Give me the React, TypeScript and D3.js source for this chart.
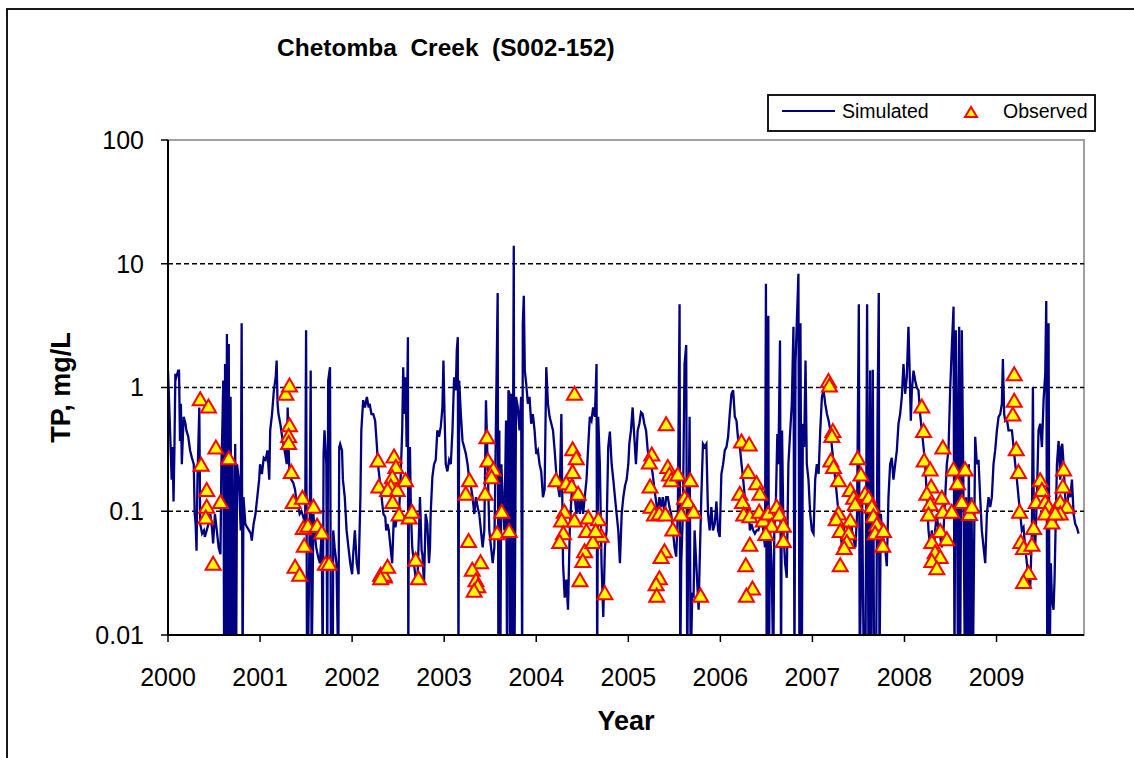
import * as d3 from "d3";

// Simulated daily TP, [years since 1 Jan 2000, mg/L]
const simA: [number, number][] = [
  [0.00,1.37],[0.02,0.51],[0.04,0.18],[0.05,0.33],[0.06,0.12],[0.07,0.33],[0.08,1.29],[0.09,1.21],[0.11,1.37],[0.12,1.37],
  [0.13,0.37],[0.14,0.74],[0.15,0.24],[0.17,0.58],[0.19,0.51],[0.20,0.45],[0.22,0.40],[0.24,0.31],[0.26,0.27],[0.28,0.24],
  [0.29,0.095],[0.30,0.079],[0.31,0.048],[0.32,0.18],[0.34,0.69],[0.35,0.079],[0.37,0.066],[0.39,0.07],[0.40,0.062],[0.42,0.07],
  [0.44,0.079],[0.46,0.095],[0.48,0.07],[0.49,0.055],[0.51,0.095],[0.53,0.07],[0.55,0.051],[0.57,0.045],[0.58,0.24],[0.59,0.45],
  [0.60,1.14],[0.61,0.005],[0.62,1.55],[0.63,0.005],[0.64,2.7],[0.65,0.005],[0.66,2.25],[0.67,0.005],[0.68,0.84],[0.69,0.005],
  [0.70,0.24],[0.71,0.005],[0.73,0.35],[0.74,0.005],[0.75,0.24],[0.77,0.18],[0.79,0.07],[0.80,3.3],[0.81,0.005],[0.82,0.13],
  [0.84,0.079],[0.86,0.074],[0.88,0.07],[0.90,0.066],[0.91,0.058],[0.93,0.079],[0.95,0.095],[0.97,0.13],[0.99,0.18],[1.00,0.24],
  [1.02,0.2],[1.04,0.27],[1.06,0.26],[1.08,0.31],[1.10,0.18],[1.11,0.45],[1.13,0.61],[1.15,0.95],[1.17,1.21],[1.18,1.65],
  [1.19,0.74],[1.20,0.61],[1.22,0.51],[1.24,0.4],[1.26,0.33],[1.28,0.27],[1.29,0.24],[1.30,0.69],[1.31,0.33],[1.32,0.2],
  [1.34,0.18],[1.36,0.17],[1.38,0.15],[1.39,0.13],[1.41,0.115],[1.43,0.095],[1.45,0.1],[1.47,0.09],[1.49,0.079],[1.50,2.9],
  [1.51,0.005],[1.52,0.005],[1.54,0.095],[1.55,1.37],[1.56,0.005],[1.58,0.095],[1.59,0.07],[1.61,0.051],[1.63,0.043],[1.65,0.038],
  [1.67,0.07],[1.68,0.005],[1.69,0.29],[1.70,0.45],[1.72,0.24],[1.73,0.005],[1.74,1.14],[1.76,1.46],[1.77,0.005],[1.79,0.005],
  [1.795,0.07],[1.81,0.051],[1.83,0.038],[1.85,0.005],[1.86,0.33],[1.87,0.35],[1.89,0.31],[1.90,0.18],[1.92,0.13],[1.94,0.07],
  [1.96,0.051],[1.98,0.038],[2.00,0.031],[2.01,0.043],[2.03,0.07],[2.05,0.038],[2.07,0.031],[2.09,0.13],[2.10,0.45],[2.12,0.79],
  [2.14,0.69],[2.16,0.84],[2.18,0.69],[2.19,0.74],[2.21,0.61],[2.23,0.61],[2.25,0.54],[2.27,0.33],[2.28,0.24],[2.30,0.18],
  [2.32,0.13],[2.34,0.095],[2.36,0.09],[2.37,0.07],
];

const simB: [number, number][] = [
  [2.384,0.079],[2.399,0.07],[2.417,0.051],[2.435,0.038],[2.453,0.09],[2.471,0.074],[2.490,0.095],[2.508,0.09],[2.526,0.18],[2.544,0.45],
  [2.555,1.46],[2.566,0.61],[2.581,1.21],[2.592,0.33],[2.606,2.55],[2.610,0.005],[2.617,0.18],[2.628,0.33],[2.639,0.095],[2.653,0.051],
  [2.671,0.038],[2.690,0.029],[2.708,0.026],[2.726,0.066],[2.737,0.13],[2.744,0.09],[2.755,0.048],[2.763,0.045],[2.781,0.026],[2.799,0.095],
  [2.817,0.079],[2.835,0.038],[2.846,0.051],[2.853,0.095],[2.872,0.19],[2.890,0.24],[2.908,0.26],[2.926,0.45],[2.944,0.40],[2.963,0.48],
  [2.981,0.69],[2.992,1.65],[3.003,0.65],[3.017,0.24],[3.035,0.21],[3.054,0.26],[3.072,0.24],[3.090,0.45],[3.108,1.21],[3.126,0.95],
  [3.137,2.0],[3.148,2.55],[3.155,0.005],[3.163,1.14],[3.181,0.61],[3.199,0.37],[3.217,0.33],[3.236,0.29],[3.254,0.24],[3.272,0.18],
  [3.290,0.16],[3.308,0.13],[3.327,0.095],[3.345,0.13],[3.363,0.108],[3.381,0.095],[3.399,0.07],[3.418,0.051],[3.436,0.07],[3.454,0.79],
  [3.472,0.24],[3.490,0.07],[3.509,0.051],[3.527,0.038],[3.545,0.051],[3.563,0.58],[3.581,5.8],[3.589,0.005],[3.599,0.45],[3.610,0.005],
  [3.621,0.24],[3.636,0.13],[3.654,0.07],[3.672,0.54],[3.683,0.005],[3.698,0.95],[3.709,0.89],[3.716,0.005],[3.727,0.89],[3.738,0.005],
  [3.756,14],[3.763,0.005],[3.781,0.84],[3.800,0.69],[3.818,0.45],[3.836,0.84],[3.847,0.005],[3.854,3.3],[3.865,5.5],[3.876,1.37],
  [3.891,1.07],[3.909,0.74],[3.927,0.84],[3.945,0.51],[3.963,0.61],[3.982,0.45],[4.000,0.29],[4.018,0.31],[4.036,0.24],[4.054,0.21],
  [4.073,0.13],[4.091,0.15],[4.109,1.46],[4.127,0.74],[4.145,0.58],[4.164,0.51],[4.182,0.45],[4.200,0.31],[4.218,0.20],[4.236,0.16],
  [4.254,0.13],[4.273,0.61],[4.291,0.038],[4.309,0.02],[4.327,0.028],[4.345,0.016],[4.364,0.07],[4.382,0.13],[4.400,0.18],[4.418,0.13],
  [4.436,0.095],[4.455,0.13],[4.473,0.095],[4.491,0.13],[4.509,0.095],[4.527,0.13],[4.546,0.18],[4.564,0.33],[4.582,0.58],[4.600,0.54],
  [4.618,0.69],[4.637,0.58],[4.655,1.55],[4.662,0.005],[4.673,0.58],[4.691,0.24],[4.709,0.038],[4.728,0.014],[4.746,0.051],[4.764,0.07],
  [4.782,0.33],[4.800,0.44],[4.819,0.24],[4.837,0.18],[4.855,0.13],[4.873,0.095],[4.891,0.07],[4.909,0.038],[4.928,0.095],[4.946,0.13],
  [4.964,0.16],[4.982,0.18],[5.000,0.24],
];

const simC: [number, number][] = [
  [5.011,0.35],[5.029,0.45],[5.047,0.69],[5.065,0.40],[5.083,0.24],[5.102,0.45],[5.120,0.51],[5.138,0.63],[5.156,0.61],[5.174,0.51],
  [5.193,0.45],[5.211,0.31],[5.229,0.27],[5.247,0.24],[5.265,0.20],[5.284,0.15],[5.302,0.12],[5.320,0.095],[5.338,0.13],[5.356,0.108],
  [5.375,0.13],[5.393,0.095],[5.411,0.13],[5.429,0.13],[5.447,0.108],[5.466,0.095],[5.484,0.07],[5.502,0.051],[5.520,0.043],[5.538,0.095],
  [5.557,4.7],[5.564,0.005],[5.575,0.038],[5.593,0.095],[5.611,1.55],[5.629,2.2],[5.640,0.005],[5.648,0.028],[5.666,0.58],[5.677,0.005],
  [5.695,0.022],[5.709,0.02],[5.720,0.07],[5.738,0.038],[5.757,0.02],[5.764,0.016],[5.775,0.038],[5.793,0.13],[5.811,0.35],[5.829,0.33],
  [5.848,0.35],[5.866,0.095],[5.884,0.07],[5.902,0.108],[5.920,0.07],[5.939,0.079],[5.957,0.12],[5.975,0.07],[5.993,0.062],[6.011,0.2],
  [6.030,0.24],[6.048,0.31],[6.066,0.33],[6.084,0.40],[6.102,0.61],[6.121,0.89],[6.139,0.95],[6.157,0.58],[6.175,0.54],[6.193,0.38],
  [6.212,0.33],[6.230,0.24],[6.248,0.18],[6.266,0.13],[6.284,0.095],[6.303,0.115],[6.321,0.07],[6.339,0.079],[6.357,0.07],[6.375,0.066],
  [6.394,0.07],[6.412,0.07],[6.430,0.079],[6.448,0.095],[6.466,0.07],[6.485,0.051],[6.495,6.9],[6.503,0.005],[6.521,3.8],[6.528,0.005],
  [6.539,0.07],[6.557,0.038],[6.575,0.005],[6.586,0.07],[6.604,0.13],[6.619,0.42],[6.630,0.24],[6.648,2.4],[6.659,0.005],[6.670,0.45],
  [6.685,0.07],[6.703,0.038],[6.721,0.029],[6.739,0.24],[6.757,0.42],[6.776,0.74],[6.794,3.1],[6.805,0.005],[6.816,1.55],[6.830,3.3],
  [6.848,8.3],[6.859,0.005],[6.870,3.3],[6.885,0.005],[6.896,0.51],[6.910,0.33],[6.925,1.65],[6.939,0.24],[6.957,0.18],[6.976,0.095],
  [6.994,0.07],[7.012,0.066],[7.030,0.18],[7.048,0.24],[7.067,0.20],[7.085,0.45],[7.103,0.84],[7.121,0.95],[7.139,0.74],[7.158,0.61],
  [7.176,0.54],[7.194,0.45],[7.212,0.33],[7.230,0.24],[7.249,0.18],[7.267,0.13],[7.285,0.095],[7.303,0.07],[7.321,0.051],[7.340,0.07],
  [7.358,0.079],[7.376,0.079],[7.394,0.062],[7.412,0.095],[7.431,0.07],[7.449,0.058],[7.467,0.051],[7.485,0.095],[7.504,4.7],[7.514,0.005],
  [7.540,0.13],[7.558,0.005],[7.576,0.005],[7.594,4.7],
];

const simD: [number, number][] = [
  [7.609,0.005],[7.627,1.37],[7.638,0.005],[7.656,1.39],[7.670,0.005],[7.692,0.005],[7.707,0.58],[7.721,5.8],[7.728,0.005],[7.743,0.095],
  [7.757,0.07],[7.772,0.06],[7.790,0.051],[7.808,0.036],[7.826,0.13],[7.844,0.24],[7.862,0.27],[7.880,0.18],[7.899,0.24],[7.917,0.31],
  [7.935,0.51],[7.953,0.61],[7.971,0.84],[7.989,1.55],[8.007,0.89],[8.025,1.21],[8.043,3.1],[8.054,1.55],[8.069,0.54],[8.080,0.95],
  [8.098,1.37],[8.116,1.14],[8.134,1.0],[8.152,0.95],[8.170,0.61],[8.188,0.45],[8.207,0.33],[8.225,0.24],[8.243,0.13],[8.261,0.07],
  [8.279,0.051],[8.297,0.07],[8.315,0.043],[8.333,0.07],[8.351,0.095],[8.370,0.07],[8.388,0.062],[8.406,0.051],[8.424,0.07],[8.442,0.13],
  [8.460,0.24],[8.478,0.31],[8.496,0.95],[8.514,2.1],[8.533,4.5],[8.543,0.005],[8.558,2.9],[8.569,0.58],[8.580,0.005],[8.594,3.1],
  [8.605,0.005],[8.623,2.9],[8.641,0.13],[8.656,0.005],[8.670,0.13],[8.685,0.005],[8.699,0.24],[8.714,0.005],[8.728,0.13],[8.743,0.005],
  [8.768,0.40],[8.786,0.24],[8.804,0.26],[8.822,0.13],[8.840,0.07],[8.859,0.051],[8.877,0.038],[8.895,0.095],[8.913,0.13],[8.931,0.108],
  [8.949,0.13],[8.967,0.24],[8.985,0.31],[9.004,0.45],[9.022,0.58],[9.040,0.61],[9.058,0.74],[9.069,1.7],[9.083,0.61],[9.094,0.54],
  [9.112,0.56],[9.130,0.45],[9.148,0.45],[9.167,0.45],[9.185,0.33],[9.203,0.24],[9.221,0.18],[9.239,0.13],[9.257,0.095],[9.275,0.07],
  [9.293,0.074],[9.311,0.051],[9.330,0.038],[9.348,0.028],[9.366,0.024],[9.384,0.07],[9.395,1.0],[9.406,0.07],[9.420,0.051],[9.438,0.13],
  [9.456,0.45],[9.474,0.51],[9.493,0.33],[9.511,0.79],[9.529,1.29],[9.540,5.0],[9.551,0.005],[9.565,3.3],[9.576,0.005],[9.590,0.038],
  [9.601,0.02],[9.619,0.016],[9.630,0.028],[9.641,0.07],[9.656,0.24],[9.674,0.37],[9.692,0.18],[9.703,0.33],[9.714,0.35],[9.728,0.24],
  [9.746,0.13],[9.764,0.095],[9.782,0.15],[9.801,0.13],[9.819,0.18],[9.837,0.095],[9.855,0.079],[9.873,0.074],[9.891,0.066],
];

// Observed grab samples, [years since 1 Jan 2000, mg/L]
const obs2000: [number, number][] = [[0.35,0.81],[0.44,0.71],[0.52,0.33],[0.36,0.24],[0.66,0.27],[0.42,0.15],[0.42,0.11],[0.41,0.09],[0.57,0.12],[0.49,0.038]];
const obs2001: [number, number][] = [[1.28,0.90],[1.32,1.05],[1.32,0.50],[1.31,0.41],[1.31,0.36],[1.34,0.21],[1.36,0.12],[1.46,0.13],[1.58,0.11],[1.47,0.074],[1.52,0.077],[1.62,0.077],[1.67,0.068],[1.48,0.053],[1.38,0.036],[1.43,0.031],[1.71,0.038],[1.75,0.038]];
const obs2002: [number, number][] = [[2.28,0.26],[2.29,0.16],[2.31,0.031],[2.35,0.03],[2.455,0.28],[2.475,0.23],[2.437,0.19],[2.42,0.16],[2.385,0.15],[2.49,0.15],[2.44,0.12],[2.58,0.18],[2.51,0.095],[2.62,0.09],[2.65,0.10],[2.69,0.041],[2.72,0.029],[2.345,0.031],[2.385,0.036],[2.31,0.029]];
const obs2003: [number, number][] = [[3.465,0.40],[3.275,0.18],[3.235,0.14],[3.475,0.26],[3.535,0.22],[3.515,0.19],[3.445,0.14],[3.625,0.10],[3.575,0.067],[3.705,0.07],[3.265,0.058],[3.395,0.039],[3.305,0.034],[3.345,0.028],[3.365,0.025],[3.325,0.023]];
const obs2004: [number, number][] = [[4.415,0.90],[4.395,0.32],[4.435,0.27],[4.215,0.18],[4.395,0.21],[4.325,0.17],[4.385,0.16],[4.455,0.14],[4.305,0.10],[4.275,0.085],[4.415,0.085],[4.565,0.09],[4.675,0.087],[4.295,0.067],[4.255,0.057],[4.545,0.07],[4.705,0.064],[4.525,0.048],[4.505,0.04],[4.615,0.057],[4.475,0.028],[4.745,0.022],[4.645,0.07]];
const obs2005: [number, number][] = [[5.411,0.51],[5.255,0.29],[5.229,0.25],[5.236,0.16],[5.247,0.11],[5.284,0.095],[5.338,0.097],[5.404,0.095],[5.429,0.23],[5.447,0.20],[5.466,0.18],[5.538,0.20],[5.673,0.18],[5.611,0.13],[5.647,0.12],[5.709,0.10],[5.575,0.095],[5.484,0.072],[5.393,0.048],[5.356,0.043],[5.338,0.029],[5.302,0.026],[5.309,0.021],[5.785,0.021]];
const obs2006: [number, number][] = [[6.229,0.37],[6.313,0.35],[6.302,0.21],[6.393,0.17],[6.429,0.14],[6.211,0.14],[6.240,0.12],[6.254,0.095],[6.320,0.092],[6.422,0.10],[6.465,0.085],[6.520,0.097],[6.611,0.11],[6.640,0.095],[6.556,0.077],[6.684,0.077],[6.494,0.066],[6.684,0.058],[6.320,0.054],[6.276,0.037],[6.349,0.024],[6.283,0.021]];
const obs2007: [number, number][] = [[7.174,1.14],[7.185,1.05],[7.222,0.45],[7.211,0.41],[7.200,0.26],[7.229,0.23],[7.283,0.18],[7.491,0.27],[7.527,0.20],[7.411,0.15],[7.447,0.13],[7.465,0.115],[7.283,0.097],[7.411,0.085],[7.258,0.087],[7.302,0.07],[7.393,0.067],[7.374,0.057],[7.345,0.051],[7.302,0.037],[7.572,0.14],[7.609,0.13],[7.645,0.11],[7.663,0.092],[7.699,0.079],[7.681,0.067],[7.772,0.07],[7.764,0.053]];
const obs2008: [number, number][] = [[8.188,0.71],[8.207,0.45],[8.214,0.26],[8.279,0.22],[8.417,0.33],[8.290,0.16],[8.243,0.14],[8.279,0.115],[8.261,0.095],[8.406,0.13],[8.417,0.10],[8.514,0.10],[8.533,0.22],[8.659,0.22],[8.576,0.17],[8.623,0.12],[8.706,0.096],[8.732,0.11],[8.297,0.057],[8.388,0.07],[8.460,0.06],[8.333,0.047],[8.388,0.043],[8.297,0.040],[8.351,0.035]];
const obs2009: [number, number][] = [[9.192,1.29],[9.192,0.79],[9.177,0.61],[9.214,0.32],[9.239,0.21],[9.250,0.10],[9.264,0.057],[9.293,0.051],[9.348,0.032],[9.293,0.027],[9.384,0.054],[9.402,0.074],[9.474,0.18],[9.493,0.15],[9.431,0.12],[9.529,0.12],[9.565,0.11],[9.529,0.097],[9.601,0.082],[9.656,0.11],[9.692,0.12],[9.721,0.16],[9.728,0.22],[9.764,0.11],[9.692,0.097],[9.638,0.097]];

const yearLabels = ["2000", "2001", "2002", "2003", "2004", "2005", "2006", "2007", "2008", "2009"];
const yTicks = [0.01, 0.1, 1, 10, 100];
const yTickLabels = ["0.01", "0.1", "1", "10", "100"];
const gridValues = [0.1, 1, 10];

const FONT = "'Liberation Sans', Arial, Helvetica, sans-serif";

export default function App() {
  const W = 1134, H = 758;
  const left = 168, right = 1084, top = 140, bottom = 635;

  const x = d3.scaleLinear().domain([0, 9.95]).range([left, right]);
  const y = d3.scaleLog().domain([0.01, 100]).range([bottom, top]);

  const sim = [...simA, ...simB, ...simC, ...simD];
  const obs = [...obs2000, ...obs2001, ...obs2002, ...obs2003, ...obs2004, ...obs2005, ...obs2006, ...obs2007, ...obs2008, ...obs2009];

  const line = d3.line<[number, number]>()
    .x(d => x(d[0]))
    .y(d => y(d[1]));

  const tri = (cx: number, cy: number, w: number, h: number) =>
    `M${cx},${cy - h / 2}L${cx + w / 2},${cy + h / 2}L${cx - w / 2},${cy + h / 2}Z`;

  return (
    <svg width={W} height={H} style={{ position: "absolute", left: 0, top: 0, background: "#fff" }} fontFamily={FONT}>
      <defs>
        <clipPath id="plotclip">
          <rect x={left} y={top} width={right - left} height={bottom - top} />
        </clipPath>
      </defs>
      <rect x={0} y={0} width={W} height={H} fill="#fff" />
      {/* outer chart frame */}
      <rect x={7} y={9} width={1300} height={900} fill="none" stroke="#000" strokeWidth={1.8} />

      <text x={277} y={56} fontSize={24.5} fontWeight="bold" style={{ whiteSpace: "pre" }} xmlSpace="preserve">
        Chetomba  Creek  (S002-152)
      </text>

      {/* plot area frame */}
      <rect x={left} y={top} width={right - left} height={bottom - top} fill="#fff" stroke="#a0a0a0" strokeWidth={2} />

      {gridValues.map(v => (
        <line key={v} x1={left} x2={right} y1={y(v)} y2={y(v)} stroke="#000" strokeWidth={1.3} strokeDasharray="5,3" />
      ))}

      <g clipPath="url(#plotclip)">
        <path d={line(sim) ?? ""} fill="none" stroke="#000080" strokeWidth={2.3} strokeLinejoin="miter" />
      </g>

      {obs.map((d, i) => (
        <path key={i} d={tri(x(d[0]), y(d[1]), 15, 13)} fill="#ffff00" stroke="#ff0000" strokeWidth={2} strokeLinejoin="miter" />
      ))}

      {/* axes */}
      <line x1={left} x2={left} y1={top} y2={bottom} stroke="#000" strokeWidth={2} />
      <line x1={left} x2={right} y1={bottom} y2={bottom} stroke="#000" strokeWidth={2} />
      {yTicks.map((v, i) => (
        <g key={v}>
          <line x1={left - 7} x2={left} y1={y(v)} y2={y(v)} stroke="#000" strokeWidth={1.5} />
          <text x={144} y={y(v)} dy="0.35em" textAnchor="end" fontSize={25}>{yTickLabels[i]}</text>
        </g>
      ))}
      {yearLabels.map((lab, i) => (
        <g key={lab}>
          <line x1={x(i)} x2={x(i)} y1={bottom} y2={bottom + 7} stroke="#000" strokeWidth={1.5} />
          <text x={x(i)} y={686} textAnchor="middle" fontSize={25}>{lab}</text>
        </g>
      ))}

      <text x={(left + right) / 2} y={730} textAnchor="middle" fontSize={27} fontWeight="bold">Year</text>
      <text transform={`translate(70,${(top + bottom) / 2}) rotate(-90)`} textAnchor="middle" fontSize={27} fontWeight="bold">TP, mg/L</text>

      {/* legend */}
      <rect x={768} y={95} width={327} height={36} fill="#fff" stroke="#000" strokeWidth={1.8} />
      <line x1={782} x2={835} y1={111} y2={111} stroke="#000080" strokeWidth={2} />
      <text x={842} y={118} fontSize={19.5}>Simulated</text>
      <path d={tri(971, 112, 12, 10)} fill="#ffff00" stroke="#ff0000" strokeWidth={2} />
      <text x={1003} y={118} fontSize={19.5}>Observed</text>
    </svg>
  );
}
